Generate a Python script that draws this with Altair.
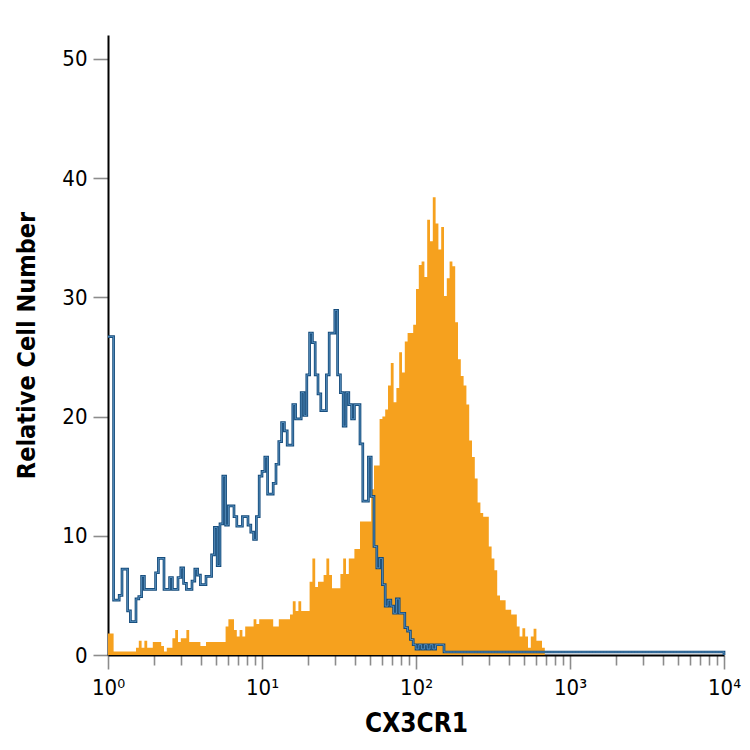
# Flow cytometry histogram: CX3CR1 staining (orange) vs isotype control (blue outline).

import altair as alt
import pandas as pd

N_BINS = 220          # channels across the 4 log decades
DECADES = 4

stained_counts = [
    1.8, 1.8, 0.3, 0.3, 0.3, 0.3, 0.3, 0.3, 0.3, 0.3,
    0.6, 1.2, 0.6, 1.2, 0.6, 0.6, 1.1, 1.1, 1.1, 0.75,
    0.3, 0.6, 0.6, 1.4, 2.1, 1.1, 1.4, 1.4, 2.1, 1.1,
    1.1, 1.1, 1.1, 0.75, 0.75, 1.1, 1.1, 1.1, 1.1, 1.1,
    1.1, 1.1, 2.4, 3.0, 3.0, 2.1, 1.55, 2.1, 1.55, 2.4,
    2.4, 2.4, 3.0, 2.6, 3.0, 3.0, 3.0, 3.0, 3.0, 2.4,
    2.4, 3.0, 3.0, 3.0, 3.0, 3.4, 4.5, 3.7, 4.5, 3.7,
    3.7, 3.7, 6.15, 8.1, 5.7, 6.15, 6.15, 6.7, 8.1, 6.7,
    5.6, 5.6, 5.6, 6.8, 8.1, 6.8, 8.1, 8.1, 8.9, 8.9,
    11.2, 11.2, 11.2, 11.2, 13.9, 15.9, 15.9, 19.8, 20.0, 20.6,
    22.6, 24.5, 21.2, 22.4, 25.4, 23.7, 26.3, 27.0, 27.0, 27.7,
    30.7, 32.7, 33.0, 31.7, 36.5, 34.7, 38.4, 36.2, 34.0, 35.9,
    30.1, 31.6, 33.0, 32.6, 27.9, 24.8, 23.4, 22.6, 21.0, 18.0,
    16.6, 14.8, 12.8, 11.9, 11.6, 11.6, 9.1, 8.1, 7.1, 5.0,
    4.6, 4.6, 3.8, 3.8, 3.4, 3.4, 2.4, 1.55, 2.25, 1.55,
    0.6, 1.55, 2.2, 1.2, 1.2, 0.6,
]

isotype_counts = [
    26.7, 26.7, 4.6, 4.6, 5.0, 7.2, 7.2, 3.7, 2.8, 2.8,
    4.7, 4.9, 6.6, 5.5, 5.5, 5.5, 5.5, 6.9, 8.1, 8.1,
    5.5, 5.5, 6.5, 5.5, 5.5, 6.5, 7.3, 6.0, 5.5, 5.5,
    6.2, 7.2, 6.7, 5.9, 5.9, 6.6, 6.6, 8.4, 10.7, 7.5,
    11.0, 15.0, 10.9, 12.5, 12.5, 11.6, 10.8, 10.8, 11.6, 11.6,
    10.9, 10.3, 9.7, 11.6, 15.0, 15.4, 16.6, 13.5, 13.5, 14.4,
    16.0, 17.9, 19.5, 18.8, 17.6, 17.6, 21.0, 19.8, 19.8, 22.0,
    20.1, 23.5, 27.0, 26.2, 23.5, 21.9, 20.5, 20.5, 23.5, 27.0,
    27.0, 28.9, 23.5, 22.0, 19.2, 22.0, 21.0, 19.8, 21.0, 21.0,
    17.7, 12.9, 12.9, 16.6, 13.3, 9.1, 7.3, 8.1, 5.9, 4.1,
    4.6, 4.1, 3.5, 4.7, 3.5, 3.5, 2.3, 2.0, 1.3, 0.86,
    0.5, 0.86, 0.5, 0.86, 0.5, 0.86, 0.5, 0.86, 0.86, 0.86,
    0.25, 0.25, 0.25, 0.25, 0.25, 0.25, 0.25, 0.25, 0.25, 0.25,
    0.25, 0.25, 0.25, 0.25, 0.25, 0.25, 0.25, 0.25, 0.25, 0.25,
    0.25, 0.25, 0.25, 0.25, 0.25, 0.25, 0.25, 0.25, 0.25, 0.25,
    0.25, 0.25, 0.25, 0.25, 0.25, 0.25, 0.25, 0.25, 0.25, 0.25,
    0.25, 0.25, 0.25, 0.25, 0.25, 0.25, 0.25, 0.25, 0.25, 0.25,
    0.25, 0.25, 0.25, 0.25, 0.25, 0.25, 0.25, 0.25, 0.25, 0.25,
    0.25, 0.25, 0.25, 0.25, 0.25, 0.25, 0.25, 0.25, 0.25, 0.25,
    0.25, 0.25, 0.25, 0.25, 0.25, 0.25, 0.25, 0.25, 0.25, 0.25,
    0.25, 0.25, 0.25, 0.25, 0.25, 0.25, 0.25, 0.25, 0.25, 0.25,
    0.25, 0.25, 0.25, 0.25, 0.25, 0.25, 0.25, 0.25, 0.25, 0.25,
]

x_ticks = [1, 2, 3, 4, 5, 6, 7, 8, 9,
           10, 20, 30, 40, 50, 60, 70, 80, 90,
           100, 200, 300, 400, 500, 600, 700, 800, 900,
           1000, 2000, 3000, 4000, 5000, 6000, 7000, 8000, 9000, 10000]
y_ticks = [0, 10, 20, 30, 40, 50]

FONT = "DejaVu Sans Condensed, Roboto, Liberation Sans, sans-serif"
ORANGE = "#f6a11e"
DARK_BLUE = "#134a7a"
LIGHT_BLUE = "#6ea6d4"


def bin_edge(i):
    return 10 ** (i * DECADES / N_BINS)


def step_frame(counts):
    # one point at each bin's left edge, then close at the last right edge
    rows = [{"fl": bin_edge(i), "count": c} for i, c in enumerate(counts)]
    rows.append({"fl": bin_edge(len(counts)), "count": 0})
    return pd.DataFrame(rows)


stained = step_frame(stained_counts)
isotype = step_frame(isotype_counts)

x_scale = alt.Scale(type="log", domain=[1, 10000], nice=False)
y_scale = alt.Scale(domain=[0, 52], nice=False, zero=True)

x_axis = alt.Axis(
    values=x_ticks,
    labelExpr=("datum.value == 1 ? '10\u2070' : datum.value == 10 ? '10\u00b9' : "
               "datum.value == 100 ? '10\u00b2' : datum.value == 1000 ? '10\u00b3' : "
               "datum.value == 10000 ? '10\u2074' : ''"),
    tickSize={"condition": {"test": "datum.value == 1 || datum.value == 10 || datum.value == 100 "
                                    "|| datum.value == 1000 || datum.value == 10000",
                            "value": 14}, "value": 10},
    tickColor="#8c8c8c",
    tickWidth=1.6,
    domainColor="black",
    domainWidth=2,
    grid=False,
    labelFont=FONT,
    labelFontSize=22,
    labelColor="black",
    labelPadding=8,
    labelFlush=False,
    labelOverlap=False,
    title="CX3CR1",
    titleFont=FONT,
    titleFontSize=26,
    titleFontWeight="bold",
    titleColor="black",
    titlePadding=12,
)

y_axis = alt.Axis(
    values=y_ticks,
    tickSize=15,
    tickColor="#8c8c8c",
    tickWidth=1.6,
    domainColor="black",
    domainWidth=2,
    grid=False,
    labelFont=FONT,
    labelFontSize=22,
    labelColor="black",
    labelPadding=6,
    title="Relative Cell Number",
    titleFont=FONT,
    titleFontSize=25,
    titleFontWeight="bold",
    titleColor="black",
    titlePadding=22,
)

area = (
    alt.Chart(stained)
    .mark_area(interpolate="step-after", color=ORANGE, opacity=1)
    .encode(
        x=alt.X("fl:Q", scale=x_scale, axis=x_axis),
        y=alt.Y("count:Q", scale=y_scale, axis=y_axis),
    )
)

outline = (
    alt.Chart(isotype)
    .mark_line(interpolate="step-after", color=DARK_BLUE, strokeWidth=2.7)
    .encode(x=alt.X("fl:Q", scale=x_scale), y=alt.Y("count:Q", scale=y_scale))
)

highlight = (
    alt.Chart(isotype)
    .mark_line(interpolate="step-after", color=LIGHT_BLUE, strokeWidth=0.7)
    .encode(x=alt.X("fl:Q", scale=x_scale), y=alt.Y("count:Q", scale=y_scale))
)

chart = (
    alt.layer(area, outline, highlight)
    .properties(
        width=616,
        height=620,
        background="white",
        autosize=alt.AutoSizeParams(type="none"),
        padding={"left": 100, "top": 27, "right": 18, "bottom": 87},
    )
    .configure_view(strokeWidth=0)
)

chart.save("out.html", embed_options={"renderer": "svg", "actions": False})
